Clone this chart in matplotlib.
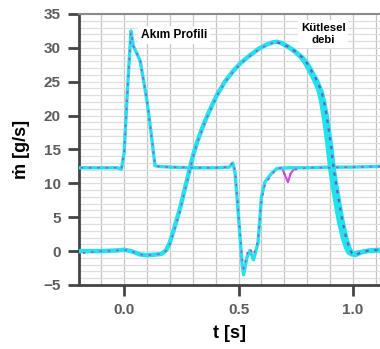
import matplotlib.pyplot as plt
import numpy as np
from matplotlib.ticker import MultipleLocator

# Data
# current profile ("Akım Profili")
t_cur = [-0.19, -0.1, -0.03, -0.012, 0.0, 0.015, 0.03, 0.04, 0.07, 0.1, 0.122, 0.135,
         0.15, 0.2, 0.3, 0.4, 0.46, 0.475, 0.485, 0.5, 0.515, 0.522, 0.537, 0.55,
         0.565, 0.585, 0.6, 0.615, 0.645, 0.668, 0.72, 0.8, 0.9, 1.0, 1.12]
cur_a = [12.3, 12.3, 12.3, 12.1, 14.5, 24.0, 32.5, 30.3, 28.1, 22.2, 16.3, 12.6,
         12.5, 12.4, 12.3, 12.3, 12.4, 13.0, 11.5, 5.0, -1.8, -3.5, -0.9, 0.1,
         -1.3, 1.2, 8.0, 10.2, 11.5, 12.2, 12.3, 12.3, 12.4, 12.4, 12.5]
t_cur_b = [-0.19, -0.1, -0.03, -0.012, 0.0, 0.015, 0.03, 0.04, 0.07, 0.1, 0.122, 0.135,
           0.15, 0.2, 0.3, 0.4, 0.46, 0.475, 0.485, 0.5, 0.515, 0.522, 0.537, 0.55,
           0.565, 0.585, 0.6, 0.615, 0.645, 0.668, 0.69, 0.705, 0.716, 0.728, 0.74,
           0.8, 0.9, 1.0, 1.12]
cur_b = [12.3, 12.3, 12.3, 12.1, 14.5, 24.0, 32.3, 30.3, 28.1, 22.2, 16.3, 12.6,
         12.5, 12.4, 12.3, 12.3, 12.4, 13.1, 11.8, 5.5, -1.0, -2.6, -0.4, 0.4,
         -0.6, 1.5, 7.5, 9.8, 11.3, 12.2, 12.3, 11.0, 10.2, 11.5, 12.0,
         12.3, 12.3, 12.4, 12.5]

# mass flow ("Kütlesel debi")
t_flow = [-0.19, -0.1, -0.03, 0.0, 0.03, 0.07, 0.1, 0.14, 0.165, 0.185, 0.2, 0.22,
          0.245, 0.26, 0.28, 0.3, 0.32, 0.345, 0.37, 0.405, 0.44, 0.477, 0.51,
          0.55, 0.59, 0.624, 0.648, 0.668, 0.69, 0.71, 0.74, 0.77, 0.79, 0.81,
          0.83, 0.85, 0.86, 0.87, 0.88, 0.89, 0.9, 0.91, 0.93, 0.94, 0.957, 0.97,
          0.98, 0.995, 1.02, 1.06, 1.12]
flow_a = [0.0, 0.0, 0.1, 0.2, 0.0, -0.5, -0.6, -0.5, -0.4, 0.2, 1.3, 3.5,
          6.4, 8.5, 11.2, 14.0, 16.2, 18.5, 20.5, 23.0, 25.0, 26.6, 27.8,
          28.9, 29.9, 30.5, 30.8, 30.9, 30.7, 30.3, 29.6, 28.7, 27.8, 26.6,
          25.3, 23.7, 22.2, 20.3, 18.0, 15.4, 12.4, 10.0, 6.0, 4.2, 1.8, 0.5,
          -0.2, -0.5, -0.2, 0.0, 0.1]
t_flow_b = [-0.18, -0.1, -0.03, 0.0, 0.03, 0.07, 0.1, 0.14, 0.165, 0.185, 0.2, 0.22,
            0.245, 0.26, 0.28, 0.3, 0.32, 0.345, 0.37, 0.405, 0.44, 0.477, 0.51,
            0.55, 0.59, 0.624, 0.648, 0.668, 0.692, 0.714, 0.746, 0.778, 0.8, 0.82,
            0.842, 0.862, 0.873, 0.884, 0.894, 0.905, 0.915, 0.926, 0.946, 0.956,
            0.972, 0.985, 0.995, 1.01, 1.035, 1.07, 1.12]
flow_b = [-0.3, 0.0, 0.1, 0.2, 0.0, -0.5, -0.6, -0.5, -0.4, 0.1, 1.0, 3.2,
          6.0, 8.2, 10.9, 13.8, 16.0, 18.3, 20.3, 22.9, 24.9, 26.5, 27.7,
          28.8, 29.8, 30.4, 30.7, 30.8, 30.6, 30.2, 29.5, 28.6, 27.7, 26.5,
          25.2, 23.6, 22.1, 20.2, 17.9, 15.3, 12.3, 9.9, 5.9, 4.1, 1.7, 0.4,
          -0.3, -0.6, -0.2, 0.1, 0.2]

fig = plt.figure(figsize=(3.8, 3.49), dpi=100)
ax = fig.add_axes([0.208, 0.1834, 0.792, 0.7766])

cyan = '#22e3e8'
purple = '#a64ee0'

ax.plot(t_cur, cur_a, color=cyan, lw=2.4, zorder=3)
ax.plot(t_flow, flow_a, color=cyan, lw=3.2, zorder=3)
ax.plot(t_flow_b[28:], flow_b[28:], color=cyan, lw=3.2, zorder=3)
ax.plot(t_cur_b, cur_b, color=purple, lw=1.2, ls=(0, (1.5, 3.5)), zorder=4)
ax.plot(t_flow_b[:28], flow_b[:28], color=purple, lw=1.2, ls=(0, (1.5, 3.5)), zorder=4)
ax.plot(t_flow_b[27:], flow_b[27:], color='#6a5ad8', lw=1.6, ls=(0, (1.5, 2.5)), zorder=4)
ax.plot(t_cur_b[29:35], cur_b[29:35], color='#d055e0', lw=1.6, zorder=2)

ax.set_xlim(-0.197, 1.118)
ax.set_ylim(-5, 35)

ax.xaxis.set_minor_locator(MultipleLocator(0.1))
ax.yaxis.set_major_locator(MultipleLocator(5))
ax.yaxis.set_minor_locator(MultipleLocator(1))
ax.set_xticks([0.0, 0.5, 1.0])
ax.set_xticklabels(['0.0', '0.5', '1.0'])

# Grid
ax.grid(True, axis='x', which='both', color='#c4c4c4', lw=0.9)
ax.grid(True, axis='y', which='both', color='#dedede', lw=0.9)
ax.set_axisbelow(True)

ax.tick_params(which='minor', length=0)
ax.tick_params(which='major', direction='out', length=8, width=2, color='#444444',
               labelcolor='#5c5c5c', labelsize=11, pad=5)
for lab in ax.get_xticklabels() + ax.get_yticklabels():
    lab.set_fontfamily('Liberation Sans')
    lab.set_fontweight('bold')

ax.spines['right'].set_visible(False)
ax.spines['left'].set_color('#444444')
ax.spines['left'].set_linewidth(2)
ax.spines['bottom'].set_color('#444444')
ax.spines['bottom'].set_linewidth(2)
ax.spines['top'].set_color('#8a8a8a')
ax.spines['top'].set_linewidth(1.5)

ax.set_xlabel('t [s]', fontsize=13, fontweight='bold', family='Liberation Sans', labelpad=6)
ax.set_ylabel('ṁ [g/s]', fontsize=13, fontweight='bold', family='Liberation Sans', labelpad=10)

box = dict(facecolor='white', edgecolor='none', pad=2)
ax.text(0.074, 31.9, 'Akım Profili', fontsize=8.6, fontweight='bold', family='Liberation Sans',
        va='center', ha='left', bbox=box, zorder=5)
ax.text(0.87, 32.0, 'Kütlesel\ndebi', fontsize=8.2, fontweight='bold', family='Liberation Sans',
        va='center', ha='center', linespacing=1.3, bbox=box, zorder=5)

fig.savefig('out.png', dpi=100)
